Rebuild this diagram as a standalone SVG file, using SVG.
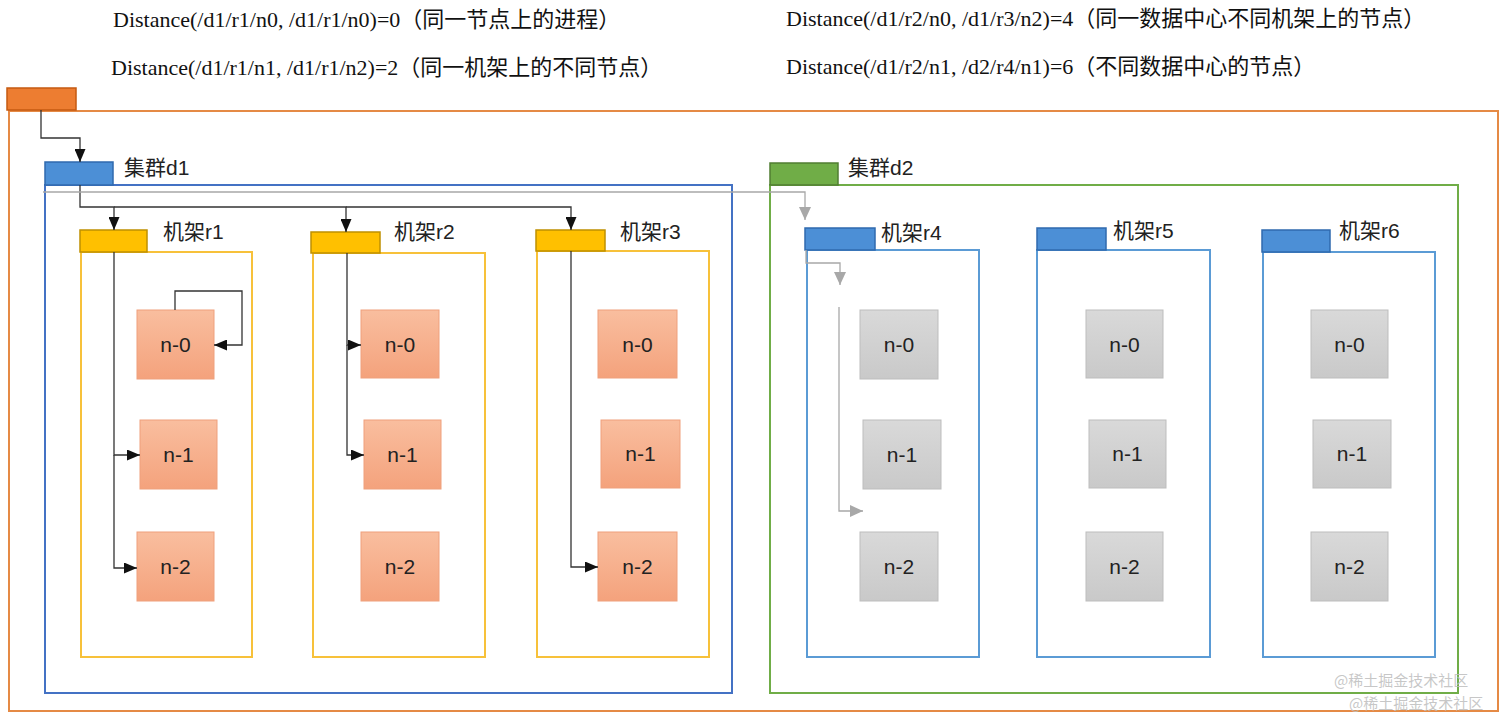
<svg xmlns="http://www.w3.org/2000/svg" width="1512" height="716" viewBox="0 0 1512 716">
<defs>
<linearGradient id="gOr" x1="0" y1="0" x2="0" y2="1"><stop offset="0" stop-color="#F9BE9F"/><stop offset="1" stop-color="#F4A27C"/></linearGradient>
<linearGradient id="gGr" x1="0" y1="0" x2="0" y2="1"><stop offset="0" stop-color="#D9D9D9"/><stop offset="1" stop-color="#C9C9C9"/></linearGradient>
<marker id="ab" markerUnits="userSpaceOnUse" markerWidth="13" markerHeight="11" refX="13" refY="5.5" orient="auto"><path d="M0,0 L13,5.5 L0,11 z" fill="#111"/></marker>
<marker id="ag" markerUnits="userSpaceOnUse" markerWidth="13" markerHeight="12" refX="13" refY="6" orient="auto"><path d="M0,0 L13,6 L0,12 z" fill="#A8A8A8"/></marker>
<style>
.hdr{font-family:"Liberation Serif","Noto Sans CJK SC",serif;font-size:22px;fill:#111}
.lbl{font-family:"Liberation Sans","Noto Sans CJK SC",sans-serif;font-size:21px;fill:#222}
.nt{font-family:"Liberation Sans","Noto Sans CJK SC",sans-serif;font-size:21px;fill:#222;text-anchor:middle}
.on{fill:url(#gOr);stroke:#EFA07C;stroke-width:1}
.gn{fill:url(#gGr);stroke:#BDBDBD;stroke-width:1}
.rtab{fill:#FFC000;stroke:#BF9000;stroke-width:1.5}
.rfr{fill:none;stroke:#F7C13A;stroke-width:2}
.btab{fill:#4C8FD6;stroke:#2F6AAE;stroke-width:1.5}
.bfr{fill:none;stroke:#5B9BD5;stroke-width:2}
.cb{fill:none;stroke:#333;stroke-width:1.3}
.cg{fill:none;stroke:#A8A8A8;stroke-width:1.3}
.wm{font-family:"Noto Sans CJK SC",sans-serif;font-size:15px;fill:#BDBDBD;fill-opacity:0.85}
</style>
</defs>
<rect width="1512" height="716" fill="#FFFFFF"/>

<g id="header">
<text class="hdr" x="113" y="27">Distance(/d1/r1/n0, /d1/r1/n0)=0（同一节点上的进程）</text>
<text class="hdr" x="111" y="75">Distance(/d1/r1/n1, /d1/r1/n2)=2（同一机架上的不同节点）</text>
<text class="hdr" x="786" y="26">Distance(/d1/r2/n0, /d1/r3/n2)=4（同一数据中心不同机架上的节点）</text>
<text class="hdr" x="786" y="74">Distance(/d1/r2/n1, /d2/r4/n1)=6（不同数据中心的节点）</text>
</g>

<g id="root">
<rect x="9" y="111" width="1489" height="600" fill="none" stroke="#E58A45" stroke-width="2"/>
<rect x="7" y="88" width="69" height="22" fill="#ED7D31" stroke="#C55A11" stroke-width="1.5"/>
</g>

<g id="d1">
<rect x="45" y="185" width="687" height="508" fill="none" stroke="#4472C4" stroke-width="2"/>
<rect x="45" y="162" width="68" height="23" class="btab"/>
<text class="lbl" x="124" y="175">集群d1</text>
</g>

<g id="d2">
<rect x="770" y="185" width="688" height="508" fill="none" stroke="#70AD47" stroke-width="2"/>
<rect x="770" y="163" width="68" height="22" fill="#70AD47" stroke="#507E32" stroke-width="1.5"/>
<text class="lbl" x="848" y="175">集群d2</text>
</g>

<g id="r1">
<rect x="81" y="252" width="171" height="405" class="rfr"/>
<rect x="80" y="230" width="67" height="22" class="rtab"/>
<text class="lbl" x="163" y="239">机架r1</text>
</g>
<g id="r2">
<rect x="313" y="253" width="172" height="404" class="rfr"/>
<rect x="311" y="232" width="69" height="21" class="rtab"/>
<text class="lbl" x="394" y="239">机架r2</text>
</g>
<g id="r3">
<rect x="537" y="251" width="172" height="406" class="rfr"/>
<rect x="536" y="230" width="69" height="21" class="rtab"/>
<text class="lbl" x="620" y="239">机架r3</text>
</g>
<g id="r4">
<rect x="807" y="250" width="172" height="407" class="bfr"/>
<rect x="805" y="228" width="70" height="22" class="btab"/>
<text class="lbl" x="881" y="240">机架r4</text>
</g>
<g id="r5">
<rect x="1037" y="250" width="173" height="407" class="bfr"/>
<rect x="1037" y="228" width="69" height="22" class="btab"/>
<text class="lbl" x="1113" y="238">机架r5</text>
</g>
<g id="r6">
<rect x="1263" y="252" width="172" height="405" class="bfr"/>
<rect x="1262" y="230" width="68" height="22" class="btab"/>
<text class="lbl" x="1339" y="238">机架r6</text>
</g>

<g id="r1-n0"><rect x="137" y="310" width="77" height="69" class="on"/><text class="nt" x="175.5" y="352">n-0</text></g>
<g id="r1-n1"><rect x="140" y="420" width="77" height="69" class="on"/><text class="nt" x="178.5" y="462">n-1</text></g>
<g id="r1-n2"><rect x="137" y="532" width="77" height="69" class="on"/><text class="nt" x="175.5" y="574">n-2</text></g>
<g id="r2-n0"><rect x="361" y="310" width="78" height="68" class="on"/><text class="nt" x="400" y="352">n-0</text></g>
<g id="r2-n1"><rect x="364" y="420" width="77" height="69" class="on"/><text class="nt" x="402.5" y="462">n-1</text></g>
<g id="r2-n2"><rect x="361" y="532" width="78" height="69" class="on"/><text class="nt" x="400" y="574">n-2</text></g>
<g id="r3-n0"><rect x="598" y="310" width="79" height="68" class="on"/><text class="nt" x="637.5" y="352">n-0</text></g>
<g id="r3-n1"><rect x="601" y="420" width="79" height="68" class="on"/><text class="nt" x="640.5" y="461">n-1</text></g>
<g id="r3-n2"><rect x="598" y="532" width="79" height="69" class="on"/><text class="nt" x="637.5" y="574">n-2</text></g>

<g id="r4-n0"><rect x="860" y="310" width="78" height="69" class="gn"/><text class="nt" x="899" y="352">n-0</text></g>
<g id="r4-n1"><rect x="863" y="420" width="78" height="69" class="gn"/><text class="nt" x="902" y="462">n-1</text></g>
<g id="r4-n2"><rect x="860" y="532" width="78" height="69" class="gn"/><text class="nt" x="899" y="574">n-2</text></g>
<g id="r5-n0"><rect x="1086" y="310" width="77" height="68" class="gn"/><text class="nt" x="1124.5" y="352">n-0</text></g>
<g id="r5-n1"><rect x="1089" y="420" width="77" height="68" class="gn"/><text class="nt" x="1127.5" y="461">n-1</text></g>
<g id="r5-n2"><rect x="1086" y="532" width="77" height="69" class="gn"/><text class="nt" x="1124.5" y="574">n-2</text></g>
<g id="r6-n0"><rect x="1311" y="310" width="77" height="68" class="gn"/><text class="nt" x="1349.5" y="352">n-0</text></g>
<g id="r6-n1"><rect x="1313" y="420" width="78" height="68" class="gn"/><text class="nt" x="1352" y="461">n-1</text></g>
<g id="r6-n2"><rect x="1311" y="532" width="77" height="69" class="gn"/><text class="nt" x="1349.5" y="574">n-2</text></g>

<g id="connectors">
<path class="cb" d="M41,110 V138 H80 V162" marker-end="url(#ab)"/>
<path class="cb" d="M80,185 V207 H114 V230" marker-end="url(#ab)"/>
<path class="cb" d="M114,207 H346 V232" marker-end="url(#ab)"/>
<path class="cb" d="M346,207 H571 V230" marker-end="url(#ab)"/>
<path class="cb" d="M114,252 V455 H140" marker-end="url(#ab)"/>
<path class="cb" d="M114,455 V568 H137" marker-end="url(#ab)"/>
<path class="cb" d="M175,310 V291 H242 V345 H214" marker-end="url(#ab)"/>
<path class="cb" d="M347,253 V345 H361" marker-end="url(#ab)"/>
<path class="cb" d="M347,345 V455 H364" marker-end="url(#ab)"/>
<path class="cb" d="M571,251 V567 H598" marker-end="url(#ab)"/>
<path class="cg" d="M43,192 H805 V220" marker-end="url(#ag)"/>
<path class="cg" d="M806,250 V263 H840 V285" marker-end="url(#ag)"/>
<path class="cg" d="M839,307 V511 H863" marker-end="url(#ag)"/>
</g>

<g id="watermark">
<text class="wm" x="1334" y="686">@稀土掘金技术社区</text>
<text class="wm" x="1349" y="709">@稀土掘金技术社区</text>
</g>
</svg>
